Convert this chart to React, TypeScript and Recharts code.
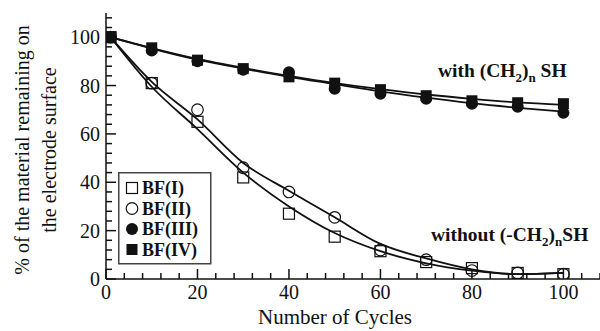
import React from "react";
import { ComposedChart, Line, XAxis, YAxis } from "recharts";

// cycle numbers where the coverage was measured
const cycles = [1, 10, 20, 30, 40, 50, 60, 70, 80, 90, 100];

// measured points (% of material remaining)
const bf1 = [100, 81, 65, 42, 27, 17.5, 11.5, 7, 4.5, 2.5, 2];
const bf2 = [100, 81, 70, 46, 36, 25.5, 12, 8, 3.5, 2.5, 2];
const bf3 = [100, 94.5, 90, 86.5, 85.5, 78.7, 76.6, 74.5, 72.5, 71.2, 68.7];
const bf4 = [100, 95.6, 90.5, 87, 83.6, 81, 78.3, 75.8, 73.7, 72.9, 72.5];

// fitted curves at the same cycles
const fit1 = [100, 79.5, 62, 44, 30, 19, 11.5, 6.5, 3.5, 2, 2.5];
const fit2 = [100, 81.5, 66, 48, 36.5, 25.5, 14.5, 8.5, 4, 2, 2.5];
const fit3 = [100, 95.3, 90.7, 87, 83.6, 80.6, 77.6, 75, 72.7, 70.8, 69.2];
const fit4 = [100, 95.5, 91, 87.3, 84, 81, 78.5, 76.3, 74.5, 73, 72];

const seriesNames = ["BF(I)", "BF(II)", "BF(III)", "BF(IV)"];

const xTicks = Array.from({ length: 28 }, (_, i) => i * 4);
const yTicks = Array.from({ length: 28 }, (_, i) => i * 4);

const rows = cycles.map((c, i) => ({
  x: c,
  bf1: bf1[i],
  bf2: bf2[i],
  bf3: bf3[i],
  bf4: bf4[i],
  fit1: fit1[i],
  fit2: fit2[i],
  fit3: fit3[i],
  fit4: fit4[i],
}));

const FONT = "'Liberation Serif', 'DejaVu Serif', serif";
const INK = "#111";

function Marker({ kind, cx, cy }: { kind: number; cx: number; cy: number }) {
  if (kind === 0)
    return <rect x={cx - 5.5} y={cy - 5.5} width={11} height={11} fill="none" stroke={INK} strokeWidth={1.2} />;
  if (kind === 1) return <circle cx={cx} cy={cy} r={5.8} fill="none" stroke={INK} strokeWidth={1.2} />;
  if (kind === 2) return <circle cx={cx} cy={cy} r={6} fill={INK} />;
  return <rect x={cx - 5.5} y={cy - 5.5} width={11} height={11} fill={INK} />;
}

function XTick(props: any) {
  const { x, y, payload } = props;
  const major = payload.value % 20 === 0;
  return (
    <g>
      <line x1={x} x2={x} y1={y} y2={y - (major ? 10 : 6)} stroke={INK} strokeWidth={1.5} />
      {major && payload.value <= 100 && (
        <text x={x} y={y + 20} textAnchor="middle" style={{ fontFamily: FONT }} fontSize={20} fill={INK}>
          {payload.value}
        </text>
      )}
    </g>
  );
}

function YTick(props: any) {
  const { x, y, payload } = props;
  const major = payload.value % 20 === 0;
  return (
    <g>
      <line x1={x} x2={x + (major ? 10 : 6)} y1={y} y2={y} stroke={INK} strokeWidth={1.5} />
      {major && payload.value <= 100 && (
        <text x={x - 6} y={y + 7} textAnchor="end" style={{ fontFamily: FONT }} fontSize={20} fill={INK}>
          {payload.value}
        </text>
      )}
    </g>
  );
}

const dotFor = (kind: number) => (p: any) => <Marker key={`m${kind}-${p.index}`} kind={kind} cx={p.cx} cy={p.cy} />;

export default function App() {
  return (
    <div style={{ position: "absolute", left: 0, top: 0, width: 600, height: 331, background: "#fff" }}>
      <ComposedChart width={600} height={331} data={rows} margin={{ top: 13, right: 0, bottom: 22, left: 66 }}>
        <XAxis
          dataKey="x"
          type="number"
          domain={[0, 108]}
          ticks={xTicks}
          interval={0}
          height={30}
          tickSize={0}
          tickMargin={0}
          tickLine={false}
          tick={<XTick />}
          axisLine={{ stroke: INK, strokeWidth: 1.5 }}
          allowDataOverflow
        />
        <YAxis
          type="number"
          domain={[0, 110]}
          ticks={yTicks}
          interval={0}
          width={40}
          tickSize={0}
          tickMargin={0}
          tickLine={false}
          tick={<YTick />}
          axisLine={{ stroke: INK, strokeWidth: 1.5 }}
          allowDataOverflow
        />
        {["fit1", "fit2", "fit3", "fit4"].map((k) => (
          <Line
            key={k}
            dataKey={k}
            type="monotone"
            stroke={INK}
            strokeWidth={1.8}
            dot={false}
            activeDot={false}
            isAnimationActive={false}
          />
        ))}
        {["bf1", "bf2", "bf3", "bf4"].map((k, i) => (
          <Line
            key={k}
            dataKey={k}
            stroke="none"
            dot={dotFor(i)}
            activeDot={false}
            isAnimationActive={false}
          />
        ))}
      </ComposedChart>
      <svg width={600} height={331} style={{ position: "absolute", left: 0, top: 0, pointerEvents: "none" }}>
        <g style={{ fontFamily: FONT }} fill={INK}>
          <text transform="translate(29,150) rotate(-90)" textAnchor="middle" fontSize={20}>
            % of the material remaining on
          </text>
          <text transform="translate(56,150) rotate(-90)" textAnchor="middle" fontSize={20}>
            the electrode surface
          </text>
          <text x={335} y={324} textAnchor="middle" fontSize={21}>
            Number of Cycles
          </text>
          <text x={438} y={77} fontSize={19.5} fontWeight="bold">
            with (CH<tspan fontSize={13} dy={5}>2</tspan>
            <tspan dy={-5}>)</tspan>
            <tspan fontSize={13} dy={5}>n</tspan>
            <tspan dy={-5}> SH</tspan>
          </text>
          <text x={431} y={241} fontSize={19.5} fontWeight="bold">
            without (-CH<tspan fontSize={13} dy={5}>2</tspan>
            <tspan dy={-5}>)</tspan>
            <tspan fontSize={13} dy={5}>n</tspan>
            <tspan dy={-5}>SH</tspan>
          </text>
        </g>
        <g transform="translate(118,172)">
          <rect x={0.75} y={0.75} width={92} height={91} fill="#fff" stroke="#444" strokeWidth={1.5} />
          {seriesNames.map((name, i) => (
            <g key={name}>
              <Marker kind={i} cx={14} cy={16 + i * 20.5} />
              <text x={24} y={22 + i * 20.5} style={{ fontFamily: FONT }} fontSize={18} fontWeight="bold" fill={INK}>
                {name}
              </text>
            </g>
          ))}
        </g>
      </svg>
    </div>
  );
}
